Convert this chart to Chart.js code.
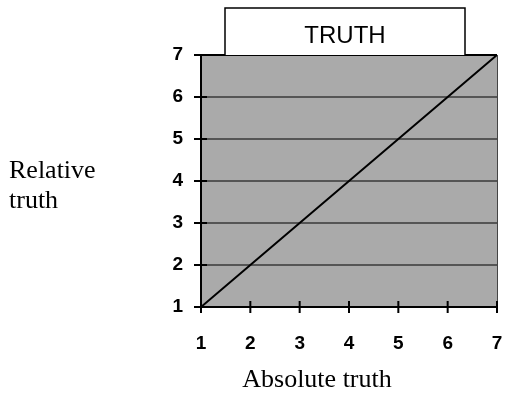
<!DOCTYPE html>
<html>
<head>
<meta charset="utf-8">
<script src="https://cdn.jsdelivr.net/npm/chart.js@4"></script>
<style>
  html, body { margin: 0; padding: 0; background: #fff; }
  #wrap { width: 507px; height: 393px; position: relative; }
</style>
</head>
<body>
<div id="wrap"><canvas id="myChart" width="507" height="393"></canvas></div>
<script>
// data
let absoluteTruth = [1, 2, 3, 4, 5, 6, 7]
let relativeTruth = [1, 2, 3, 4, 5, 6, 7]
let tickValues = [1, 2, 3, 4, 5, 6, 7]
let chartTitle = "TRUTH"
let xTitle = "Absolute truth"
let yTitle = ["Relative", "truth"]

let points = absoluteTruth.map(function (x, i) { return { x: x, y: relativeTruth[i] } })

// gray plot box, title box, crossing ticks and the loose axis titles
const extras = {
  id: 'extras',
  beforeDraw(chart) {
    const ctx = chart.ctx, a = chart.chartArea
    ctx.save()
    ctx.fillStyle = '#aaaaaa'
    ctx.fillRect(a.left, a.top, a.right - a.left, a.bottom - a.top)
    ctx.restore()
  },
  afterDatasetsDraw(chart) {
    const ctx = chart.ctx, a = chart.chartArea
    const xs = chart.scales.x, ys = chart.scales.y
    ctx.save()
    // right border
    ctx.strokeStyle = '#444'
    ctx.lineWidth = 1
    ctx.beginPath()
    ctx.moveTo(a.right + 0.5, a.top)
    ctx.lineTo(a.right + 0.5, a.bottom)
    ctx.stroke()
    // top edge
    ctx.strokeStyle = '#000'
    ctx.lineWidth = 2
    ctx.beginPath()
    ctx.moveTo(a.left, a.top)
    ctx.lineTo(a.right, a.top)
    ctx.stroke()
    // axes
    ctx.beginPath()
    ctx.moveTo(a.left, a.top - 1)
    ctx.lineTo(a.left, a.bottom)
    ctx.lineTo(a.right, a.bottom)
    ctx.stroke()
    // ticks
    tickValues.forEach(function (v) {
      let px = xs.getPixelForValue(v)
      let py = ys.getPixelForValue(v)
      ctx.beginPath()
      ctx.moveTo(px, a.bottom - 6)
      ctx.lineTo(px, a.bottom + 6)
      ctx.moveTo(a.left - 7, py)
      ctx.lineTo(a.left + 6, py)
      ctx.stroke()
    })
    // title box
    ctx.fillStyle = '#fff'
    ctx.fillRect(225, 8, 240, 47)
    ctx.strokeStyle = '#000'
    ctx.lineWidth = 1.5
    ctx.beginPath()
    ctx.moveTo(225, a.top)
    ctx.lineTo(225, 8)
    ctx.lineTo(465, 8)
    ctx.lineTo(465, a.top)
    ctx.stroke()
    ctx.fillStyle = '#000'
    ctx.font = '24px "Liberation Sans", Arial, sans-serif'
    ctx.textAlign = 'center'
    ctx.textBaseline = 'alphabetic'
    ctx.fillText(chartTitle, 345, 43)
    // axis titles
    ctx.font = '26px "Liberation Serif", "Times New Roman", serif'
    ctx.fillText(xTitle, 317, 387)
    ctx.textAlign = 'left'
    ctx.fillText(yTitle[0], 9, 178)
    ctx.fillText(yTitle[1], 9, 208)
    ctx.restore()
  }
}

new Chart(document.getElementById('myChart'), {
  type: 'scatter',
  data: {
    datasets: [{
      data: points,
      showLine: true,
      borderColor: '#000',
      borderWidth: 2,
      pointRadius: 0,
      fill: false
    }]
  },
  options: {
    responsive: false,
    animation: false,
    layout: { padding: { left: 0, right: 10, top: 55, bottom: 0 } },
    plugins: { legend: { display: false }, tooltip: { enabled: false } },
    scales: {
      x: {
        type: 'linear', min: 1, max: 7,
        afterFit(s) { s.height = 86; s.paddingLeft = 0; s.paddingRight = 0 },
        afterBuildTicks(s) { s.ticks = tickValues.map(function (v) { return { value: v } }) },
        grid: { display: false, drawTicks: false },
        border: { display: false },
        ticks: {
          padding: 25,
          maxRotation: 0,
          color: '#000',
          font: { family: '"Liberation Sans", Arial, sans-serif', size: 19, weight: 'bold' }
        }
      },
      y: {
        type: 'linear', min: 1, max: 7,
        afterFit(s) { s.width = 201; s.paddingTop = 0; s.paddingBottom = 0 },
        afterBuildTicks(s) { s.ticks = tickValues.map(function (v) { return { value: v } }) },
        grid: { color: '#555555', lineWidth: 2, drawTicks: false },
        border: { display: false },
        ticks: {
          padding: 18,
          color: '#000',
          font: { family: '"Liberation Sans", Arial, sans-serif', size: 19, weight: 'bold' }
        }
      }
    }
  },
  plugins: [extras]
})
</script>
</body>
</html>
